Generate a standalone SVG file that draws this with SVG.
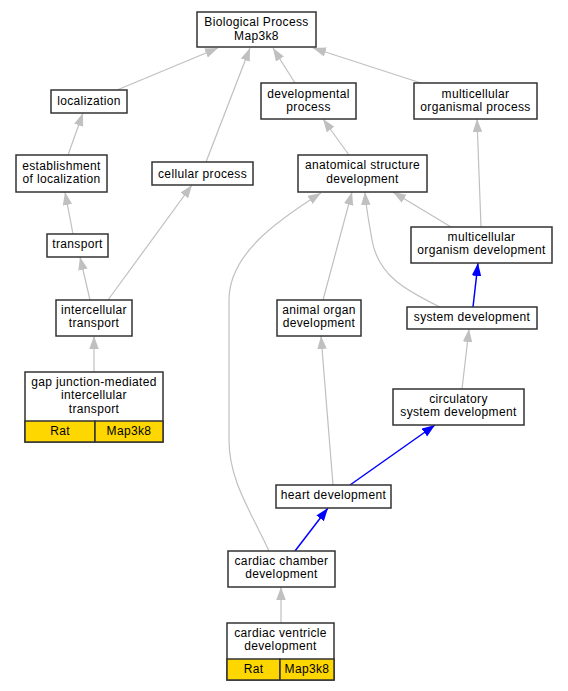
<svg xmlns="http://www.w3.org/2000/svg" width="568" height="691" viewBox="0 0 568 691">
<defs>
<marker id="ag" markerUnits="userSpaceOnUse" markerWidth="14" markerHeight="11" refX="13" refY="4.75" orient="auto"><path d="M0,0 L13,4.75 L0,9.5 z" fill="#c0c0c0"/></marker>
<marker id="ab" markerUnits="userSpaceOnUse" markerWidth="14" markerHeight="11" refX="13" refY="4.75" orient="auto"><path d="M0,0 L13,4.75 L0,9.5 z" fill="#0000ff"/></marker>
</defs>
<style>
.n rect{fill:#fff;stroke:#333;stroke-width:1.5}
.n rect.y{fill:#ffd700}
text{font-family:"Liberation Sans",Arial,sans-serif;font-size:12px;letter-spacing:0.35px;fill:#000;text-anchor:middle}
.e path{fill:none;stroke:#c0c0c0;stroke-width:1.2;marker-end:url(#ag)}
.e path.b{stroke:#0000ff;stroke-width:1.5;marker-end:url(#ab)}
</style>
<rect width="568" height="691" fill="#fff"/>
<g id="edges" class="e">
<path d="M117,90 L218,48"/>
<path d="M206,162 L250,48"/>
<path d="M295,83 L273,48"/>
<path d="M421,83 L313,48"/>
<path d="M68,155 L83,113"/>
<path d="M73,234 L65,192"/>
<path d="M90,300 L80,257"/>
<path d="M108,300 L192,185"/>
<path d="M94,372 L94,336"/>
<path d="M349,155 L323,119"/>
<path d="M481,227 L477,119"/>
<path d="M451,227 L393,192"/>
<path d="M440,307 C405,290 378,275 372,240 C369,222 366,208 365,192"/>
<path d="M323,300 L352,192"/>
<path d="M269,551 C250,510 229,480 229,440 L229,300 C229,255 275,222 321,193"/>
<path d="M333,485 L321,336"/>
<path class="b" d="M350,485 L435,425"/>
<path d="M462,389 L469,329"/>
<path class="b" d="M473,307 L478,263"/>
<path class="b" d="M295,551 L328,508"/>
<path d="M281,623 L281,587"/>
</g>
<g id="bp" class="n"><rect x="197" y="12" width="119" height="35"/><text x="256.5" y="26.25">Biological Process</text><text x="256.5" y="39.75">Map3k8</text></g>
<g id="localization" class="n"><rect x="51" y="90" width="76" height="23"/><text x="89" y="105">localization</text></g>
<g id="establishment" class="n"><rect x="16" y="155" width="91" height="37"/><text x="61.5" y="169.75">establishment</text><text x="61.5" y="183.25">of localization</text></g>
<g id="cellular" class="n"><rect x="152" y="162" width="101" height="23"/><text x="202.5" y="178">cellular process</text></g>
<g id="developmental" class="n"><rect x="261" y="83" width="95" height="36"/><text x="308.5" y="97.75">developmental</text><text x="308.5" y="111.25">process</text></g>
<g id="mop" class="n"><rect x="414" y="83" width="123" height="36"/><text x="475.5" y="97.75">multicellular</text><text x="475.5" y="111.25">organismal process</text></g>
<g id="asd" class="n"><rect x="298" y="155" width="129" height="37"/><text x="362.5" y="169.25">anatomical structure</text><text x="362.5" y="182.75">development</text></g>
<g id="transport" class="n"><rect x="47" y="234" width="61" height="23"/><text x="77.5" y="248">transport</text></g>
<g id="ict" class="n"><rect x="56" y="300" width="76" height="36"/><text x="94" y="313.75">intercellular</text><text x="94" y="327.25">transport</text></g>
<g id="gap" class="n"><rect x="25" y="372" width="138" height="70"/><rect class="y" x="25" y="421" width="70" height="21"/><rect class="y" x="95" y="421" width="68" height="21"/><text x="94" y="385.5">gap junction-mediated</text><text x="94" y="399">intercellular</text><text x="94" y="412.5">transport</text><text x="60" y="435">Rat</text><text x="129" y="435">Map3k8</text></g>
<g id="mod" class="n"><rect x="411" y="227" width="141" height="36"/><text x="481.5" y="240.75">multicellular</text><text x="481.5" y="254.25">organism development</text></g>
<g id="sd" class="n"><rect x="407" y="307" width="130" height="22"/><text x="472" y="321">system development</text></g>
<g id="aod" class="n"><rect x="277" y="300" width="84" height="36"/><text x="319" y="313.75">animal organ</text><text x="319" y="327.25">development</text></g>
<g id="csd" class="n"><rect x="393" y="389" width="131" height="36"/><text x="458.5" y="402.75">circulatory</text><text x="458.5" y="416.25">system development</text></g>
<g id="heart" class="n"><rect x="276" y="485" width="115" height="23"/><text x="333.5" y="498.5">heart development</text></g>
<g id="ccd" class="n"><rect x="228" y="551" width="107" height="36"/><text x="281.5" y="564.75">cardiac chamber</text><text x="281.5" y="578.25">development</text></g>
<g id="cvd" class="n"><rect x="227" y="623" width="107" height="57"/><rect class="y" x="227" y="659" width="53" height="21"/><rect class="y" x="280" y="659" width="54" height="21"/><text x="280.5" y="636.75">cardiac ventricle</text><text x="280.5" y="650.25">development</text><text x="253.5" y="673">Rat</text><text x="307" y="673">Map3k8</text></g>
</svg>
